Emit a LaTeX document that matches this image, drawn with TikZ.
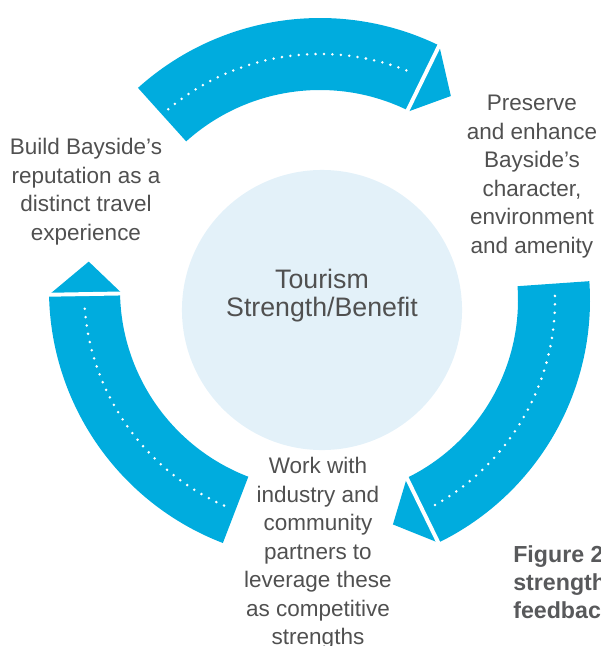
\documentclass[tikz,border=0pt]{standalone}
\usepackage{fontspec}
\setmainfont{Liberation Sans}
\usepackage{tikz}

\definecolor{bandblue}{HTML}{00ACDE}
\definecolor{hubblue}{HTML}{E3F1F9}
\definecolor{txtgray}{HTML}{505050}
\definecolor{capgray}{HTML}{58595B}

\tikzset{
  band/.style={fill=bandblue},
  gapline/.style={draw=white, line width=2.8pt},
  dotline/.style={draw=white, line width=2pt, line cap=round, dash pattern=on 0pt off 6pt},
  lbl/.style={text=txtgray, align=center, inner sep=0pt, font=\fontsize{16}{20.3}\selectfont},
}

\begin{document}
\begin{tikzpicture}[x=0.025cm,y=0.025cm]

\useasboundingbox (0,0) rectangle (600,-646);
\clip (0,0) rectangle (600,-646);

% {Hub};
\node[circle, fill=hubblue, minimum size=7cm, inner sep=0pt] (hub) at (322,-310) {};
\node[text=txtgray, align=center, inner sep=0pt, font=\fontsize{19}{19.8}\selectfont] (hubtxt) at (322,-296) {Tourism\\Strength/Benefit};

% {Top Arc};
\begin{scope}[shift={(320,-290)}]
\fill[band] (132:272) arc[start angle=132, end angle=64, radius=272] -- (64:200) arc[start angle=64, end angle=132, radius=200] -- cycle;
\fill[band] (64:272) -- (56:234) -- (64:198) -- cycle;
\draw[gapline] (64:188) -- (64:284);
\draw[dotline] (130:236) arc[start angle=130, end angle=67, radius=236];
\end{scope}

% {Left Arc};
\begin{scope}[shift={(320,-290)}]
\fill[band] (249:271) arc[start angle=249, end angle=181, radius=271] -- (181:200) arc[start angle=181, end angle=249, radius=200] -- cycle;
\fill[band] (181:271) -- (173:233) -- (181:198) -- cycle;
\draw[gapline] (181:188) -- (181:284);
\draw[dotline] (246:236) arc[start angle=246, end angle=183, radius=236];
\end{scope}

% {Right Arc};
\begin{scope}[shift={(320,-300)}]
\fill[band] (4:270) arc[start angle=4, end angle=-64, radius=270] -- (-64:198) arc[start angle=-64, end angle=4, radius=198] -- cycle;
\fill[band] (-64:270) -- (-72:236) -- (-64:198) -- cycle;
\draw[gapline] (-64:186) -- (-64:282);
\draw[dotline] (1:235) arc[start angle=1, end angle=-62, radius=235];
\end{scope}

% {Labels};
\node[lbl] (build) at (86,-191.5) {Build Bayside’s\\reputation as a\\distinct travel\\experience};
\node[lbl] (preserve) at (532,-176.5) {Preserve\\and enhance\\Bayside’s\\character,\\environment\\and amenity};
\node[lbl] (work) at (318,-553.5) {Work with\\industry and\\community\\partners to\\leverage these\\as competitive\\strengths};

% {Caption};
\node[text=capgray, align=left, inner sep=0pt, anchor=north west, font=\fontsize{16.5}{20.2}\bfseries\selectfont] (caption) at (513,-545) {Figure 2\\strengths\\feedback};

\end{tikzpicture}
\end{document}
